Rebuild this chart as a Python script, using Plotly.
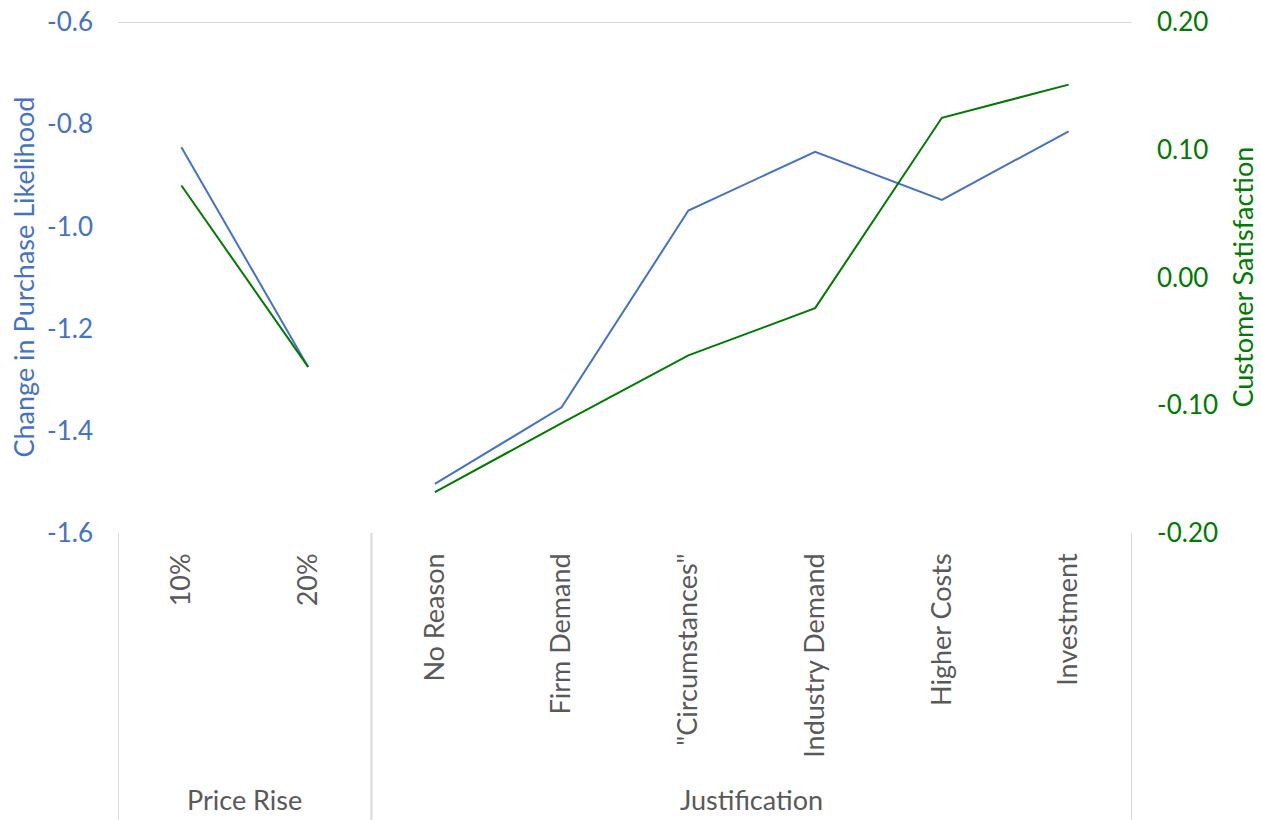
import plotly.graph_objects as go

# Category structure
price_rise = ["10%", "20%"]
justification = ["No Reason", "Firm Demand", "\"Circumstances\"", "Industry Demand",
                 "Higher Costs", "Investment"]
groups = ["Price Rise", "Justification"]

# Series values
purchase_price = [-0.845, -1.275]
purchase_just = [-1.504, -1.354, -0.969, -0.854, -0.948, -0.814]
satisf_price = [0.072, -0.070]
satisf_just = [-0.168, -0.114, -0.061, -0.024, 0.125, 0.151]

# Axis ticks
left_ticks = [-1.6, -1.4, -1.2, -1.0, -0.8, -0.6]
right_ticks = [-0.2, -0.1, 0.0, 0.1, 0.2]

categories = price_rise + justification
x_price = [i + 0.5 for i in range(len(price_rise))]
x_just = [len(price_rise) + i + 0.5 for i in range(len(justification))]

BLUE = "#4472C4"
GREEN = "#007A00"
GRAY = "#595959"
LIGHT = "#D9D9D9"
FONT = "Lato"
TXT = 27
NUM = 26

fig = go.Figure()
for xs, ys in [(x_price, purchase_price), (x_just, purchase_just)]:
    fig.add_trace(go.Scatter(x=xs, y=ys, mode="lines", yaxis="y",
                             line=dict(color=BLUE, width=2), showlegend=False))
for xs, ys in [(x_price, satisf_price), (x_just, satisf_just)]:
    fig.add_trace(go.Scatter(x=xs, y=ys, mode="lines", yaxis="y2",
                             line=dict(color=GREEN, width=2), showlegend=False))

n = len(categories)
fig.update_layout(
    width=1261, height=820,
    margin=dict(l=118, r=129, t=22, b=287, autoexpand=False),
    paper_bgcolor="white", plot_bgcolor="white",
    font=dict(family=FONT, color=GRAY),
    xaxis=dict(range=[0, n], showgrid=False, zeroline=False, showline=False,
               automargin=False,
               tickmode="array", tickvals=x_price + x_just, ticktext=categories,
               tickangle=-90, ticks="", ticklabelstandoff=14,
               tickfont=dict(size=TXT, color=GRAY, family=FONT)),
    yaxis=dict(range=[-1.6, -0.6], tickmode="array", tickvals=left_ticks,
               ticktext=[f"{v:.1f}" for v in left_ticks], automargin=False,
               showgrid=False, zeroline=False, showline=False, ticks="",
               ticklabelstandoff=24,
               tickfont=dict(size=NUM, color=BLUE, family=FONT)),
    yaxis2=dict(range=[-0.2, 0.2], tickmode="array", tickvals=right_ticks,
                ticktext=[f"{v:.2f}" for v in right_ticks], automargin=False,
                overlaying="y", side="right", showgrid=False, zeroline=False,
                showline=False, ticks="", ticklabelstandoff=24,
                tickfont=dict(size=NUM, color=GREEN, family=FONT)),
)

# Top gridline
fig.add_shape(type="line", xref="x", yref="y", x0=0, x1=n, y0=-0.6, y1=-0.6,
              line=dict(color=LIGHT, width=2))

# Group separators below the plot area
sep_bottom = -287 / 511
for xv in [0, len(price_rise), n]:
    fig.add_shape(type="line", xref="x", yref="paper", x0=xv, x1=xv,
                  y0=0, y1=sep_bottom, line=dict(color=LIGHT, width=2))

# Group labels
fig.add_annotation(x=len(price_rise) / 2, xref="x", y=0, yref="paper", yshift=-266,
                   text=groups[0], showarrow=False, yanchor="middle", borderpad=0,
                   font=dict(size=TXT, color=GRAY, family=FONT))
fig.add_annotation(x=len(price_rise) + len(justification) / 2, xref="x", y=0,
                   yref="paper", yshift=-266, text=groups[1], showarrow=False,
                   yanchor="middle", borderpad=0,
                   font=dict(size=TXT, color=GRAY, family=FONT))

# Axis titles
fig.add_annotation(x=0, xref="paper", xshift=-95, y=0.5, yref="paper",
                   text="Change in Purchase Likelihood", textangle=-90,
                   showarrow=False, xanchor="center", yanchor="middle",
                   font=dict(size=TXT, color=BLUE, family=FONT))
fig.add_annotation(x=1, xref="paper", xshift=110, y=0.5, yref="paper",
                   text="Customer Satisfaction", textangle=-90,
                   showarrow=False, xanchor="center", yanchor="middle",
                   font=dict(size=TXT, color=GREEN, family=FONT))

fig.write_html("out.html")
